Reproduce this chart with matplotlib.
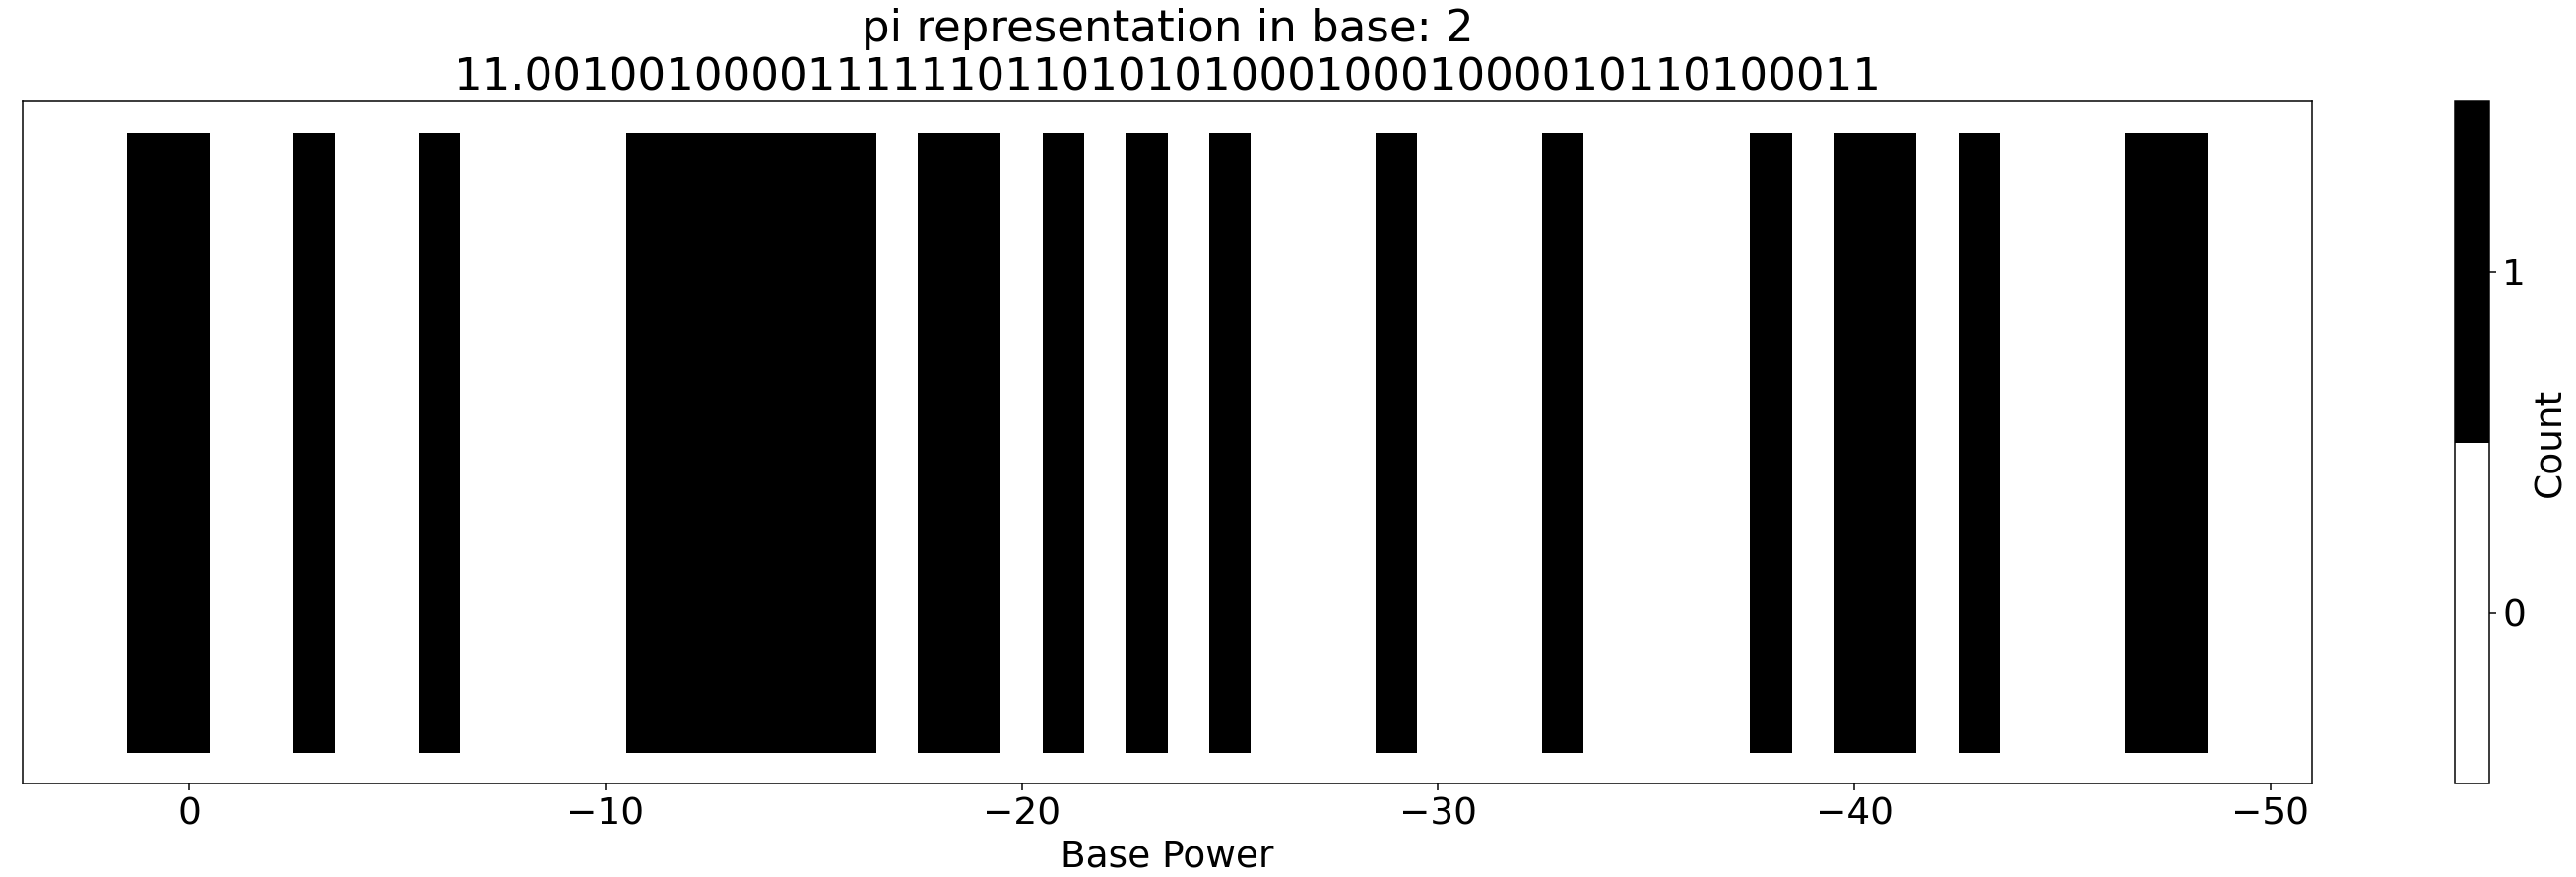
import numpy as np
import matplotlib
matplotlib.use("Agg")
import matplotlib.pyplot as plt
from matplotlib.colors import ListedColormap

# pi written in base 2 (as shown in the title)
base = 2
pi_digits = "11.001001000011111101101010100010001000010110100011"

# digits -> values and base powers
int_part, frac_part = pi_digits.split(".")
bits = [int(c) for c in int_part + frac_part]
powers = list(range(len(int_part) - 1, -len(frac_part) - 1, -1))

plt.rcParams['font.size'] = 20

dpi = 135
fig = plt.figure(figsize=(2616 / dpi, 891 / dpi), dpi=dpi)
ax = fig.add_axes([23 / 2616, 1 - 796 / 891, (2348 - 23) / 2616, (796 - 103) / 891])
cax = fig.add_axes([2493 / 2616, 1 - 796 / 891, (2528 - 2493) / 2616, (796 - 103) / 891])

# cell edges around every power
x_edges = np.array([p + 0.5 for p in powers] + [powers[-1] - 0.5])
y_edges = np.array([0, 1])
C = np.array([bits])

cmap = ListedColormap(['white', 'black'])
mesh = ax.pcolormesh(x_edges, y_edges, C, cmap=cmap, vmin=-0.5, vmax=1.5)

ax.use_sticky_edges = False
ax.margins(0.05)
ax.autoscale_view()
ax.invert_xaxis()
ax.set_yticks([])
ax.set_xlabel('Base Power')
ax.set_title(f'pi representation in base: {base}\n{pi_digits}')

cbar = fig.colorbar(mesh, cax=cax, ticks=[0, 1])
cbar.set_label('Count')

fig.savefig('out.png', dpi=dpi)
